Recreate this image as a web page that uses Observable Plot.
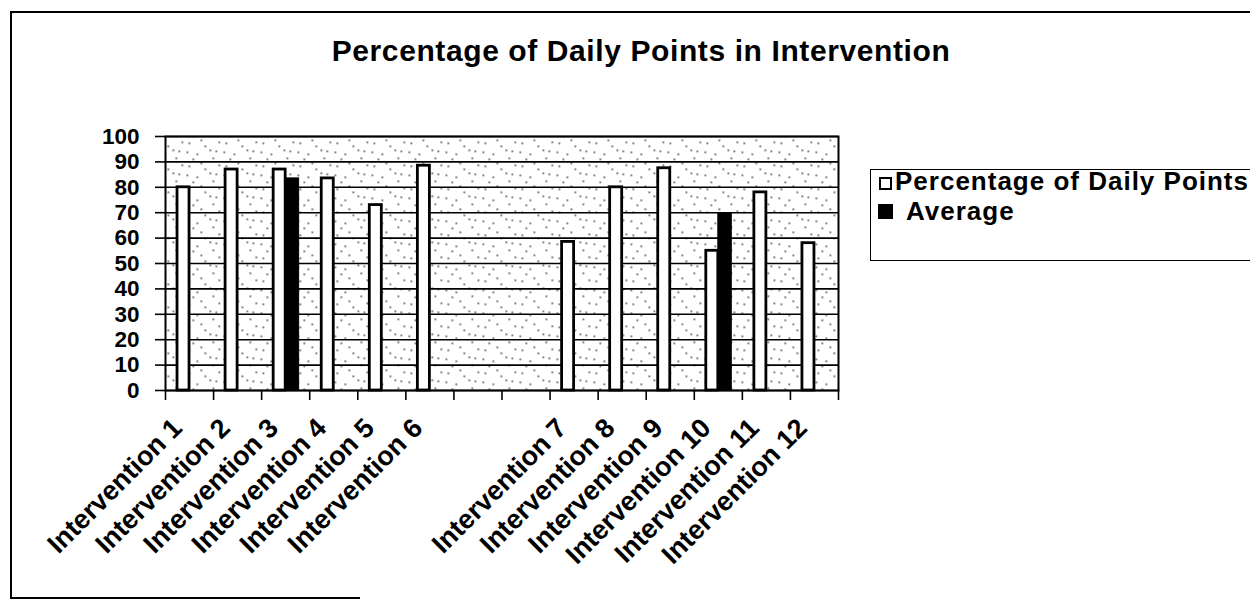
<!DOCTYPE html>
<html>
<head>
<meta charset="utf-8">
<script src="https://cdn.jsdelivr.net/npm/d3@7"></script>
<script src="https://cdn.jsdelivr.net/npm/@observablehq/plot@0.6"></script>
<style>
  html, body { margin: 0; padding: 0; background: #fff; overflow: hidden; }
  #page { position: relative; width: 1250px; height: 601px; overflow: hidden; font-family: "Liberation Sans", Arial, sans-serif; color: #000; }
  #chart { position: absolute; left: 0; top: 0; }
  .line { position: absolute; background: #000; }
  #title { position: absolute; left: 0; top: 36px; width: 1282px; text-align: center; font-size: 30px; letter-spacing: 0.6px; font-weight: bold; line-height: 1; white-space: nowrap; }
  #legend { position: absolute; left: 870px; top: 169px; width: 420px; height: 92px; border: 1.5px solid #000; box-sizing: border-box; background: #fff; }
  .lg-item { position: absolute; font-size: 26px; letter-spacing: 1px; font-weight: bold; line-height: 1; white-space: nowrap; }
  .sw { position: absolute; width: 13px; height: 13px; box-sizing: border-box; border: 2px solid #000; }
</style>
</head>
<body>
<div id="page">
  <div id="chart"></div>
  <div class="line" style="left:10px;top:11px;width:1240px;height:2px;"></div>
  <div class="line" style="left:10px;top:11px;width:2px;height:588px;"></div>
  <div class="line" style="left:10px;top:597px;width:350px;height:2px;"></div>
  <div id="title">Percentage of Daily Points in Intervention</div>
  <div id="legend"></div>
</div>
<script>
// ---- data ----
const categories = ["Intervention 1", "Intervention 2", "Intervention 3", "Intervention 4", "Intervention 5", "Intervention 6", "", "", "Intervention 7", "Intervention 8", "Intervention 9", "Intervention 10", "Intervention 11", "Intervention 12"];
const percentage = [80, 87, 87, 83.5, 73, 88.5, null, null, 58.5, 80, 87.5, 55, 78, 58];
const average = [null, null, 83.5, null, null, null, null, null, null, null, null, 69.5, null, null];
const yTicks = [0, 10, 20, 30, 40, 50, 60, 70, 80, 90, 100];
const seriesNames = ["Percentage of Daily Points", "Average"];

// ---- tables built from the arrays ----
const rows = categories.map((name, i) => ({i, name, p: percentage[i], a: average[i]}));
const pctRows = rows.filter(d => d.p != null);
const avgRows = rows.filter(d => d.a != null);
const labelRows = rows.filter(d => d.name !== "");
const boundaries = d3.range(categories.length + 1);

const chart = Plot.plot({
  width: 1250,
  height: 601,
  marginLeft: 165,
  marginRight: 412,
  marginTop: 136,
  marginBottom: 211,
  x: {domain: [0, categories.length]},
  y: {domain: [0, 100]},
  style: {fontFamily: "'Liberation Sans', Arial, sans-serif", fontWeight: "bold", background: "transparent", color: "#000", overflow: "visible"},
  marks: [
    Plot.frame({fill: "url(#stip)", stroke: "none"}),
    Plot.ruleY(yTicks, {stroke: "#000", strokeWidth: 1.6}),
    Plot.rect(pctRows, {x1: d => d.i + 0.25, x2: d => d.i + 0.5, y1: d => 0, y2: "p", fill: "#fff", stroke: "#000", strokeWidth: 2.8}),
    Plot.rect(avgRows, {x1: d => d.i + 0.5, x2: d => d.i + 0.78, y1: d => 0, y2: "a", fill: "#000", stroke: "#000", strokeWidth: 1}),
    Plot.frame({stroke: "#000", strokeWidth: 2}),
    Plot.axisY({ticks: yTicks, tickSize: 10, tickPadding: 16, fontSize: 22.5, fontWeight: "bold", strokeWidth: 1.6, anchor: "left"}),
    Plot.axisX({ticks: boundaries, tickSize: 10, tickFormat: () => "", strokeWidth: 1.6, anchor: "bottom"}),
    Plot.text(labelRows, {x: d => d.i + 0.5, y: d => 0, text: "name", rotate: -45, textAnchor: "end", lineAnchor: "middle", dy: 33, dx: -12, fontSize: 27, fontWeight: "bold"})
  ]
});

// stipple pattern used as the plot-area fill
const ns = "http://www.w3.org/2000/svg";
const defs = document.createElementNS(ns, "defs");
const pat = document.createElementNS(ns, "pattern");
pat.setAttribute("id", "stip");
pat.setAttribute("patternUnits", "userSpaceOnUse");
pat.setAttribute("width", "37");
pat.setAttribute("height", "23");
const dots = [[3,4],[11,15],[19,7],[27,19],[33,3],[7,20],[24,11],[15,1],[30,12],[1,13]];
for (const [dx, dy] of dots) {
  const r = document.createElementNS(ns, "rect");
  r.setAttribute("x", dx); r.setAttribute("y", dy);
  r.setAttribute("width", "1.6"); r.setAttribute("height", "1.6");
  r.setAttribute("fill", "#444");
  pat.appendChild(r);
}
defs.appendChild(pat);
chart.insertBefore(defs, chart.firstChild);
document.getElementById("chart").appendChild(chart);

// legend
const page = document.getElementById("page");
const entries = [
  {name: seriesNames[0], fill: "#fff", sq: [879, 177], tx: [895, 168]},
  {name: seriesNames[1], fill: "#000", sq: [878, 204], tx: [906, 198]}
];
for (const e of entries) {
  const s = document.createElement("div");
  s.className = "sw";
  s.style.left = e.sq[0] + "px"; s.style.top = e.sq[1] + "px"; s.style.background = e.fill;
  if (e.fill === "#000") { s.style.width = "15px"; s.style.height = "15px"; }
  const t = document.createElement("div");
  t.className = "lg-item";
  t.style.left = e.tx[0] + "px"; t.style.top = e.tx[1] + "px";
  t.textContent = e.name;
  page.appendChild(s); page.appendChild(t);
}
</script>
</body>
</html>
